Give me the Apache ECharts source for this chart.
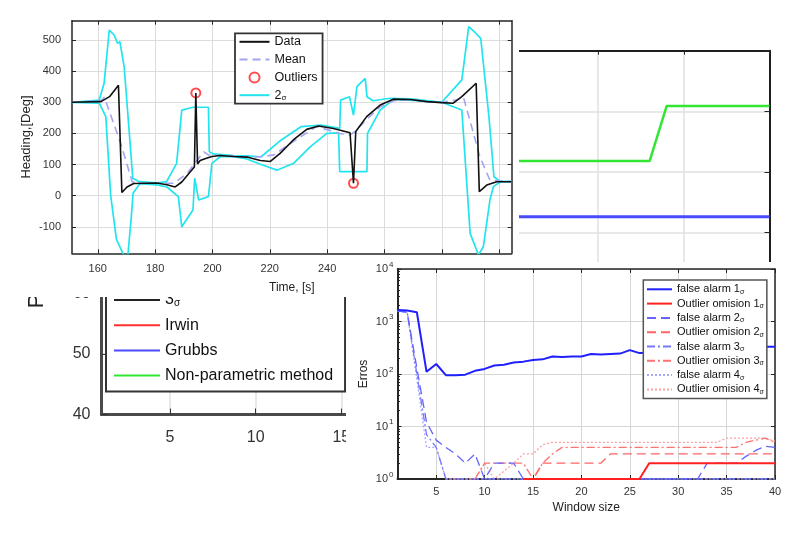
<!DOCTYPE html>
<html><head><meta charset="utf-8">
<script src="https://cdn.jsdelivr.net/npm/echarts@6/dist/echarts.min.js"></script>
<style>html,body{margin:0;padding:0;background:#fff}#c{width:810px;height:535px}</style>
</head><body><div id="c"></div>
<script>
// ---------- Panel A : heading vs time ----------
const dataTime    = [151, 161.1, 164.1, 167.2, 168.4, 170.2, 172.5, 180.6, 184.1, 187, 189.3, 192.2, 193.7, 194.2, 194.8, 195.7, 197.4, 199.8, 202.7, 207.4, 212, 216.7, 220.2, 223.6, 228.2, 232.9, 237, 242.2, 248, 249.2, 250, 253.8, 258.5, 263.1, 269, 274.8, 280, 284, 287, 292, 293.1, 295.7, 299.2, 304.4];
const dataHeading = [300, 302, 318, 355, 10, 28, 39, 41, 35, 28, 44, 76, 92, 330, 102, 113, 119, 126, 129, 126, 124, 113, 110, 136, 179, 213, 224, 216, 202, 40, 206, 254, 291, 310, 309, 302, 299, 297, 318, 361, 13, 34, 45, 45];
const meanTime    = [151, 161.1, 162.3, 168, 172, 175, 186.6, 191.2, 194.7, 197, 198.6, 202.7, 207.4, 212, 217, 221.4, 228.2, 236.3, 244.4, 248, 249.7, 253.8, 258.5, 263.1, 269, 274.8, 280, 285.1, 287.5, 290.4, 293.3, 296.8, 304.4];
const meanHeading = [300, 305, 316, 168, 45, 40, 40, 72, 115, 141, 131, 129, 127, 124, 125, 131, 174, 222, 200, 195, 206, 245, 285, 305, 309, 302, 300, 307, 318, 222, 125, 50, 45];
const upperTime    = [151, 160.5, 162.2, 164, 165.7, 166.9, 167.7, 169.2, 171, 172.2, 174.5, 180.6, 184, 187.5, 189.3, 193.2, 198.6, 198.9, 200.3, 207.4, 212, 217, 224, 231, 238, 244.4, 244.7, 247.8, 249.2, 250.4, 253.3, 253.9, 256, 262, 270, 280, 287, 289.4, 291.5, 293.6, 296.5, 298.2, 300.5, 304.4];
const upperHeading = [300, 307, 361, 532, 516, 489, 495, 414, 200, 56, 45, 41, 45, 104, 275, 284, 284, 141, 134, 129, 128, 125, 179, 222, 227, 216, 307, 318, 259, 350, 377, 318, 305, 313, 310, 300, 372, 543, 525, 505, 250, 61, 45, 45];
const lowerTime    = [151, 160.5, 162.8, 164.5, 166.5, 169, 170.5, 171.7, 172.3, 174.7, 180.6, 184.1, 188.1, 189.3, 193.2, 193.8, 195.2, 198.6, 199.8, 202.7, 207.4, 212, 217, 222.5, 228.3, 234.1, 239.9, 244, 244.4, 248, 253.9, 254.1, 258.5, 263.1, 270, 280, 287, 289.9, 292.8, 294.5, 296.8, 298, 300.5, 304.4];
const lowerHeading = [300, 297, 254, 0, -140, -190, -190, -67, 8, 39, 35, 28, -3, -100, -46, 56, -14, -3, 104, 125, 125, 118, 100, 82, 104, 157, 200, 202, 77, 77, 77, 200, 275, 309, 306, 300, 275, -121, -190, -164, -14, 29, 45, 45];
const outlierTime    = [194.2, 249.2];
const outlierHeading = [330, 40];
const headingTicks = [-100, 0, 100, 200, 300, 400, 500];
const timeTicks    = [160, 180, 200, 220, 240, 260, 280, 300];

// ---------- Panel B/C : detection chart (partly hidden) ----------
const detWindow      = [25, 26, 27, 28, 29, 30, 31, 32, 33, 34, 35, 36, 37, 38, 39, 40];
const grubbsValues   = [72.6, 72.6, 72.6, 72.6, 72.6, 72.6, 72.6, 72.6, 72.6, 72.6, 72.6, 72.6, 72.6, 72.6, 72.6, 72.6];
const nonParamValues = [81.8, 81.8, 81.8, 81.8, 81.8, 81.8, 81.8, 81.8, 81.8, 90.9, 90.9, 90.9, 90.9, 90.9, 90.9, 90.9];
const irwinValues    = [];
const sigma3Values   = [];
const detTicks       = [5, 10, 15, 20, 25, 30, 35, 40];

// ---------- Panel D : errors vs window size ----------
const windowSizes = [1,2,3,4,5,6,7,8,9,10,11,12,13,14,15,16,17,18,19,20,21,22,23,24,25,26,27,28,29,30,31,32,33,34,35,36,37,38,39,40];
const falseAlarm1 = [1650,1620,1500,110,155,95,95,97,115,125,145,150,165,172,185,190,215,210,215,215,240,235,240,245,285,250,255,260,265,270,275,280,285,290,295,300,305,315,330,330];
const omission1   = [null,null,null,null,null,null,null,null,null,null,null,null,null,1,1,1,1,1,1,1,1,1,1,1,1,1,2,2,2,2,2,2,2,2,2,2,2,2,2,2];
const falseAlarm2 = [1600,1500,130,12,5.5,4,3,2,3,1,2,2,2,1,1,1,1,1,1,1,1,1,1,1,1,1,1,1,1,1,1,1,2,2,2,2,2.7,3.5,4.2,4];
const omission2   = [null,null,null,null,null,null,null,null,null,null,null,null,null,1,1,2,2,2,2,2,2,2,3,3,3,3,3,3,3,3,3,3,3,3,3,3,3,3,3,3];
const falseAlarm3 = [1600,1500,100,7,4,1,1,1,1,1,1,1,1,1,1,1,1,1,1,1,1,1,1,1,1,1,1,1,1,1,1,1,1,1,1,1,1,1,1,1];
const omission3   = [null,null,null,null,null,null,null,null,1,2,2,2,2,2,1,2,3,4,4,4,4,4,4,4,4,4,4,4,4,4,4,4,4,4,4,4,5,5.5,6,5];
const falseAlarm4 = [1600,1500,80,4,4,1,1,1,1,1,1,1,1,1,1,1,1,1,1,1,1,1,1,1,1,1,1,1,1,1,1,1,1,1,1,1,1,1,1,1];
const omission4   = [null,null,null,null,null,1,1,1,1,2,1,1.4,2,3,3,4.5,5,5,5,5,5,5,5,5,5,5,5,5,5,5,5,5,5,5,6,6,6,6,6,5.2];
const windowTicks = [5, 10, 15, 20, 25, 30, 35, 40];
const logTicks    = [1, 10, 100, 1000, 10000];
const minorLogTicks = [];
for (let d = 0; d < 4; d++) for (let k = 2; k <= 9; k++) minorLogTicks.push(k * Math.pow(10, d));

// ---------- helpers ----------
const FONT = "'Liberation Sans', Arial, sans-serif";
const LBL = '#333';
const pairs = (xs, ys) => xs.map((x, i) => [x, ys[i]]);
const sub = name => name.replace('σ', '{s|σ}');
const lineItem = name => ({ name: name, itemStyle: { opacity: 0 } });

const chart = echarts.init(document.getElementById('c'));

function frameX(grid, min, max, ticks, zl, pos, extra) {
  return Object.assign({
    gridIndex: grid, type: 'value', min: min, max: max, position: pos, zlevel: zl,
    axisLine: { show: true, onZero: false, lineStyle: { color: '#262626', width: 1.5 } },
    axisTick: { show: true, inside: true, length: 4, customValues: ticks, lineStyle: { color: '#262626' } },
    axisLabel: { show: false }, splitLine: { show: false }
  }, extra || {});
}

const option = {
  backgroundColor: '#fff',
  animation: false,
  textStyle: { fontFamily: FONT },
  grid: [
    { left: 101.5, top: 50.7, width: 668, height: 363.8, zlevel: 0, outerBoundsMode: 'none', containLabel: false },
    { left: 72, top: 20.7, width: 439.7, height: 232.6, zlevel: 1, outerBoundsMode: 'none', containLabel: false },
    { left: 397.5, top: 269, width: 377.5, height: 210, zlevel: 2, outerBoundsMode: 'none', containLabel: false }
  ],
  xAxis: [
    frameX(0, 1, 40, detTicks, 0, 'bottom', {
      axisLine: { show: true, onZero: false, lineStyle: { color: '#4a4a4a', width: 3 } },
      axisTick: { show: true, inside: true, length: 6, customValues: detTicks, lineStyle: { color: '#333' } },
      axisLabel: { show: true, customValues: detTicks, fontSize: 16, color: LBL, margin: 15, fontFamily: FONT },
      splitLine: { show: true, lineStyle: { color: '#e0e0e0', width: 1.5 } }
    }),
    frameX(0, 1, 40, detTicks, 0, 'top', { axisLine: { show: true, onZero: false, lineStyle: { color: '#1e1e1e', width: 2 } } }),
    frameX(1, 151, 304.4, timeTicks, 1, 'bottom', {
      axisLabel: { show: true, customValues: timeTicks, fontSize: 11, color: LBL, margin: 10, fontFamily: FONT },
      splitLine: { show: true, lineStyle: { color: '#dcdcdc', width: 1 } },
      name: 'Time, [s]', nameLocation: 'middle', nameGap: 28, nameMoveOverlap: false,
      nameTextStyle: { fontSize: 12, color: '#222', fontFamily: FONT }
    }),
    frameX(1, 151, 304.4, timeTicks, 1, 'top'),
    frameX(2, 1, 40, windowTicks, 2, 'bottom', {
      axisLine: { show: true, onZero: false, lineStyle: { color: '#262626', width: 2 } },
      axisLabel: { show: true, customValues: windowTicks, fontSize: 11, color: LBL, margin: 7, fontFamily: FONT },
      splitLine: { show: true, lineStyle: { color: '#d6d6d6', width: 1 } },
      name: 'Window size', nameLocation: 'middle', nameGap: 23, nameMoveOverlap: false,
      nameTextStyle: { fontSize: 12, color: '#222', fontFamily: FONT }
    }),
    frameX(2, 1, 40, windowTicks, 2, 'top')
  ],
  yAxis: [
    {
      gridIndex: 0, type: 'value', min: 40, max: 100, interval: 10, zlevel: 0,
      axisLine: { show: true, onZero: false, lineStyle: { color: '#4a4a4a', width: 3 } },
      axisTick: { show: true, inside: true, length: 6, lineStyle: { color: '#333' } },
      axisLabel: { fontSize: 16, color: LBL, margin: 11, fontFamily: FONT },
      splitLine: { show: true, lineStyle: { color: '#e0e0e0', width: 1.5 } }
    },
    {
      gridIndex: 0, type: 'value', position: 'right', min: 40, max: 100, interval: 10, zlevel: 0,
      axisLine: { show: true, onZero: false, lineStyle: { color: '#1e1e1e', width: 2 } },
      axisTick: { show: true, inside: true, length: 5, lineStyle: { color: '#262626' } },
      axisLabel: { show: false }, splitLine: { show: false }
    },
    {
      gridIndex: 1, type: 'value', min: -185, max: 562, zlevel: 1,
      axisLine: { show: true, onZero: false, lineStyle: { color: '#262626', width: 1.5 } },
      axisTick: { show: true, inside: true, length: 4, customValues: headingTicks, lineStyle: { color: '#262626' } },
      axisLabel: { customValues: headingTicks, fontSize: 11, color: LBL, margin: 11, fontFamily: FONT },
      splitLine: { show: true, lineStyle: { color: '#dcdcdc', width: 1 } },
      name: 'Heading,[Deg]', nameLocation: 'middle', nameGap: 39, nameMoveOverlap: false,
      nameTextStyle: { fontSize: 13, color: '#222', fontFamily: FONT }
    },
    {
      gridIndex: 1, type: 'value', position: 'right', min: -185, max: 562, zlevel: 1,
      axisLine: { show: true, onZero: false, lineStyle: { color: '#262626', width: 1.5 } },
      axisTick: { show: true, inside: true, length: 4, customValues: headingTicks, lineStyle: { color: '#262626' } },
      axisLabel: { show: false }, splitLine: { show: false }
    },
    {
      gridIndex: 2, type: 'log', logBase: 10, min: 1, max: 10000, zlevel: 2,
      axisLine: { show: true, onZero: false, lineStyle: { color: '#262626', width: 2 } },
      axisTick: { show: true, inside: true, length: 4, customValues: logTicks, lineStyle: { color: '#262626' } },
      axisLabel: {
        customValues: logTicks, margin: 4, color: LBL,
        formatter: v => '{b|10}{e|' + Math.round(Math.log10(v)) + '}',
        rich: { b: { fontSize: 11, color: LBL, fontFamily: FONT }, e: { fontSize: 8, color: LBL, fontFamily: FONT, padding: [0, 0, 9, 1] } }
      },
      splitLine: { show: true, lineStyle: { color: '#d6d6d6', width: 1 } },
      name: 'Erros', nameLocation: 'middle', nameGap: 28, nameMoveOverlap: false,
      nameTextStyle: { fontSize: 12, color: '#222', fontFamily: FONT }
    },
    {
      gridIndex: 2, type: 'log', logBase: 10, min: 1, max: 10000, position: 'right', zlevel: 2,
      axisLine: { show: true, onZero: false, lineStyle: { color: '#262626', width: 1.5 } },
      axisTick: { show: true, inside: true, length: 4, customValues: logTicks, lineStyle: { color: '#262626' } },
      axisLabel: { show: false }, splitLine: { show: false }
    },
    {
      gridIndex: 2, type: 'log', logBase: 10, min: 1, max: 10000, position: 'left', zlevel: 2,
      axisLine: { show: false },
      axisTick: { show: true, inside: true, length: 2.5, customValues: minorLogTicks, lineStyle: { color: '#262626' } },
      axisLabel: { show: false }, splitLine: { show: false }
    }
  ],
  legend: [
    {
      data: ['3σ', 'Irwin', 'Grubbs', 'Non-parametric method'].map(lineItem),
      orient: 'vertical', left: 106, top: 285, zlevel: 0, z: 20,
      padding: [6, 12, 7, 7], itemWidth: 46, itemHeight: 14, itemGap: 7.2,
      backgroundColor: '#fff', borderColor: '#333', borderWidth: 2, borderRadius: 0,
      selectedMode: false, formatter: sub,
      textStyle: { fontSize: 16, lineHeight: 18, color: '#111', fontFamily: FONT, rich: { s: { fontSize: 10, padding: [7, 0, 0, 0], color: '#111' } } }
    },
    {
      data: [lineItem('Data'), lineItem('Mean'), { name: 'Outliers' }, lineItem('2σ')],
      orient: 'vertical', left: 235, top: 33.3, zlevel: 1, z: 20,
      padding: [1.5, 5, 1.5, 3.5], itemWidth: 30, itemHeight: 10, itemGap: 3.8,
      backgroundColor: '#fff', borderColor: '#333', borderWidth: 1.8, borderRadius: 0,
      selectedMode: false, formatter: sub,
      textStyle: { fontSize: 12.5, lineHeight: 14, color: '#111', fontFamily: FONT, rich: { s: { fontSize: 8, padding: [5, 0, 0, 0], color: '#111' } } }
    },
    {
      data: ['false alarm 1σ', 'Outlier omision 1σ', 'false alarm 2σ', 'Outlier omision 2σ', 'false alarm 3σ', 'Outlier omision 3σ', 'false alarm 4σ', 'Outlier omision 4σ'].map(lineItem),
      orient: 'vertical', left: 643.3, top: 280, zlevel: 2, z: 20,
      padding: [2.8, 3, 2.5, 2.7], itemWidth: 25, itemHeight: 8, itemGap: 1.3,
      backgroundColor: '#fff', borderColor: '#555', borderWidth: 1.5, borderRadius: 0,
      selectedMode: false, formatter: sub,
      textStyle: { fontSize: 11, lineHeight: 13, color: '#111', fontFamily: FONT, rich: { s: { fontSize: 7, padding: [5, 0, 0, 0], color: '#111' } } }
    }
  ],
  graphic: [
    { type: 'rect', zlevel: 1, z: -100, silent: true, shape: { x: 0, y: 0, width: 519, height: 297 }, style: { fill: '#fff' } },
    { type: 'rect', zlevel: 2, z: -100, silent: true, shape: { x: 346, y: 262, width: 464, height: 273 }, style: { fill: '#fff' } },
    { type: 'text', zlevel: 0, z: 5, x: 36.5, y: 301, rotation: Math.PI / 2, silent: true,
      style: { text: 'P', fontSize: 22, fontFamily: FONT, fill: '#222', align: 'center', verticalAlign: 'middle' } }
  ],
  series: [
    // B/C
    { name: '3σ', type: 'line', xAxisIndex: 0, yAxisIndex: 0, zlevel: 0, symbol: 'none', data: pairs(detWindow, sigma3Values), lineStyle: { color: '#222', width: 2.5 }, itemStyle: { color: '#222' } },
    { name: 'Irwin', type: 'line', xAxisIndex: 0, yAxisIndex: 0, zlevel: 0, symbol: 'none', data: pairs(detWindow, irwinValues), lineStyle: { color: '#ff3030', width: 2.5 }, itemStyle: { color: '#ff3030' } },
    { name: 'Grubbs', type: 'line', xAxisIndex: 0, yAxisIndex: 0, zlevel: 0, symbol: 'none', data: pairs(detWindow, grubbsValues), lineStyle: { color: '#4a4aff', width: 3 }, itemStyle: { color: '#4a4aff' } },
    { name: 'Non-parametric method', type: 'line', xAxisIndex: 0, yAxisIndex: 0, zlevel: 0, symbol: 'none', data: pairs(detWindow, nonParamValues), lineStyle: { color: '#33e633', width: 2.5 }, itemStyle: { color: '#33e633' } },
    // A
    { name: '2σ', type: 'line', xAxisIndex: 2, yAxisIndex: 2, zlevel: 1, symbol: 'none', data: pairs(upperTime, upperHeading), lineStyle: { color: '#22e4ee', width: 1.7 }, itemStyle: { color: '#22e4ee' } },
    { name: '2σ', type: 'line', xAxisIndex: 2, yAxisIndex: 2, zlevel: 1, symbol: 'none', data: pairs(lowerTime, lowerHeading), lineStyle: { color: '#22e4ee', width: 1.7 }, itemStyle: { color: '#22e4ee' } },
    { name: 'Mean', type: 'line', xAxisIndex: 2, yAxisIndex: 2, zlevel: 1, symbol: 'none', data: pairs(meanTime, meanHeading), lineStyle: { color: '#a4a4f2', width: 1.6, type: [8, 5] }, itemStyle: { color: '#a4a4f2' } },
    { name: 'Data', type: 'line', xAxisIndex: 2, yAxisIndex: 2, zlevel: 1, symbol: 'none', data: pairs(dataTime, dataHeading), lineStyle: { color: '#111', width: 1.6 }, itemStyle: { color: '#111' } },
    { name: 'Outliers', type: 'scatter', xAxisIndex: 2, yAxisIndex: 2, zlevel: 1, symbol: 'emptyCircle', symbolSize: 9, data: pairs(outlierTime, outlierHeading), itemStyle: { color: '#ff2020', borderColor: '#ff2020', borderWidth: 1.6 } },
    // D
    { name: 'minor grid', type: 'line', xAxisIndex: 4, yAxisIndex: 4, zlevel: 2, z: 1, data: [], silent: true,
      markLine: { silent: true, symbol: 'none', label: { show: false }, animation: false,
        lineStyle: { color: '#dddddd', width: 1, type: [1, 2] }, data: minorLogTicks.map(v => ({ yAxis: v })) } },
    { name: 'false alarm 4σ', type: 'line', xAxisIndex: 4, yAxisIndex: 4, zlevel: 2, symbol: 'none', data: pairs(windowSizes, falseAlarm4), lineStyle: { color: '#a8a8ff', width: 1.3, type: [2, 2] }, itemStyle: { color: '#a8a8ff' } },
    { name: 'Outlier omision 4σ', type: 'line', xAxisIndex: 4, yAxisIndex: 4, zlevel: 2, symbol: 'none', data: pairs(windowSizes, omission4), lineStyle: { color: '#ffa0a0', width: 1.3, type: [2, 2] }, itemStyle: { color: '#ffa0a0' } },
    { name: 'false alarm 3σ', type: 'line', xAxisIndex: 4, yAxisIndex: 4, zlevel: 2, symbol: 'none', data: pairs(windowSizes, falseAlarm3), lineStyle: { color: '#7777ff', width: 1.3, type: [8, 3, 2, 3] }, itemStyle: { color: '#7777ff' } },
    { name: 'Outlier omision 3σ', type: 'line', xAxisIndex: 4, yAxisIndex: 4, zlevel: 2, symbol: 'none', data: pairs(windowSizes, omission3), lineStyle: { color: '#ff7070', width: 1.3, type: [8, 3, 2, 3] }, itemStyle: { color: '#ff7070' } },
    { name: 'false alarm 2σ', type: 'line', xAxisIndex: 4, yAxisIndex: 4, zlevel: 2, symbol: 'none', data: pairs(windowSizes, falseAlarm2), lineStyle: { color: '#6464ff', width: 1.3, type: [9, 5] }, itemStyle: { color: '#6464ff' } },
    { name: 'Outlier omision 2σ', type: 'line', xAxisIndex: 4, yAxisIndex: 4, zlevel: 2, symbol: 'none', data: pairs(windowSizes, omission2), lineStyle: { color: '#ff6464', width: 1.3, type: [9, 5] }, itemStyle: { color: '#ff6464' } },
    { name: 'Outlier omision 1σ', type: 'line', xAxisIndex: 4, yAxisIndex: 4, zlevel: 2, symbol: 'none', data: pairs(windowSizes, omission1), lineStyle: { color: '#ff2020', width: 2 }, itemStyle: { color: '#ff2020' } },
    { name: 'false alarm 1σ', type: 'line', xAxisIndex: 4, yAxisIndex: 4, zlevel: 2, symbol: 'none', data: pairs(windowSizes, falseAlarm1), lineStyle: { color: '#2020ff', width: 2 }, itemStyle: { color: '#2020ff' } }
  ]
};
chart.setOption(option);
</script></body></html>
